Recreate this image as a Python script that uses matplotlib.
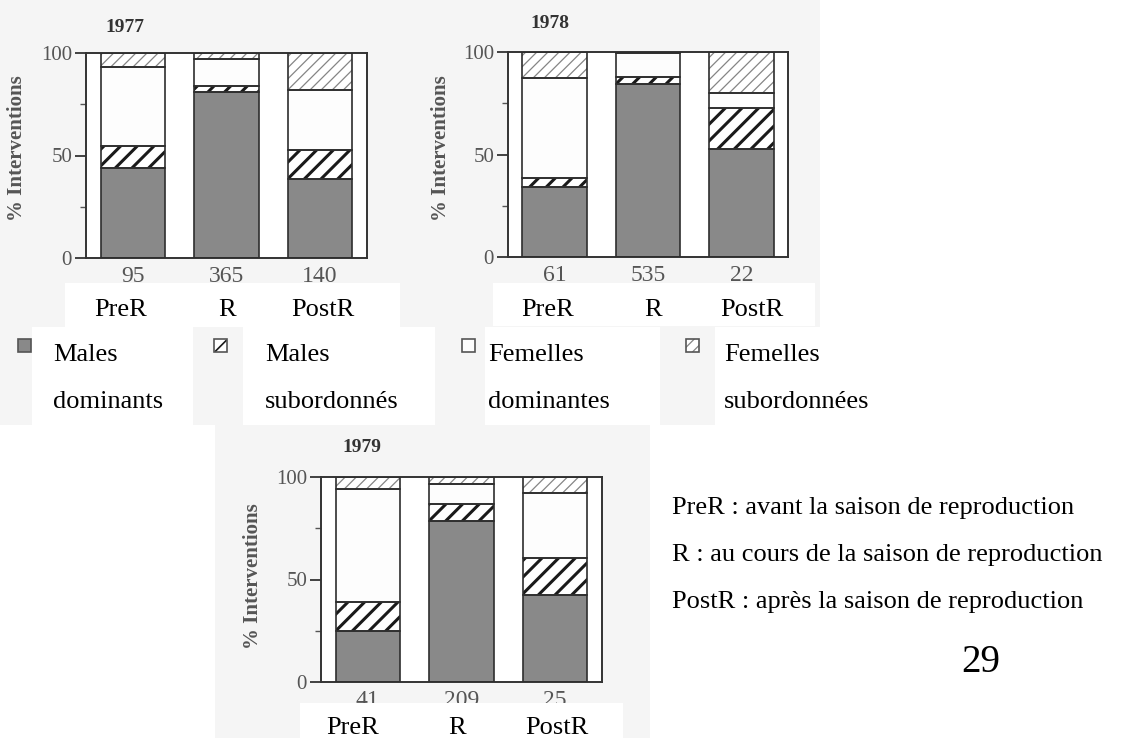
import numpy as np
import matplotlib.pyplot as plt
from matplotlib.patches import Rectangle

plt.rcParams['font.family'] = ['Liberation Serif', 'DejaVu Serif']

W, H = 1123, 738

periodes = ['PreR', 'R', 'PostR']
groupes = ['Males\ndominants', 'Males\nsubordonnés', 'Femelles\ndominantes', 'Femelles\nsubordonnées']
definitions = ['PreR : avant la saison de reproduction',
               'R : au cours de la saison de reproduction',
               'PostR : après la saison de reproduction']

# effectifs (nombre d'interventions) sous chaque barre
n_1977 = [95, 365, 140]
n_1978 = [61, 535, 22]
n_1979 = [41, 209, 25]

# % interventions par groupe (PreR, R, PostR)
males_dom_1977 = [44, 81, 38.5]
males_sub_1977 = [10.5, 3, 14]
fem_dom_1977 = [38.5, 13, 29.5]
fem_sub_1977 = [7, 3, 18]

males_dom_1978 = [34, 84.5, 52.5]
males_sub_1978 = [4.5, 3.5, 20]
fem_dom_1978 = [49, 11.5, 7.5]
fem_sub_1978 = [12.5, 0.5, 20]

males_dom_1979 = [25, 78.5, 42.5]
males_sub_1979 = [14, 8.5, 18]
fem_dom_1979 = [55, 9.5, 31.5]
fem_sub_1979 = [6, 3.5, 8]

# style de chaque groupe : remplissage, hachure, couleur et epaisseur de hachure
styles = [
    ('#898989', None, '#898989', 1.0),
    ('white', '//', '#1a1a1a', 2.2),
    ('#fdfdfd', None, '#fdfdfd', 1.0),
    ('white', '///', '#858585', 0.9),
]


def fig_rect(x0, y0, x1, y1):
    return [x0 / W, 1 - y1 / H, (x1 - x0) / W, (y1 - y0) / H]


def fig_xy(x, y):
    return x / W, 1 - y / H


def boite_blanche(x0, y0, x1, y1, couleur='white', z=5):
    l, b, w, h = fig_rect(x0, y0, x1, y1)
    fig.add_artist(Rectangle((l, b), w, h, transform=fig.transFigure,
                             facecolor=couleur, edgecolor='none', zorder=z))


fig = plt.figure(figsize=(W / 100, H / 100), dpi=100)
fig.patch.set_facecolor('white')

# fond gris des scans
for zone in [(0, 0, 400, 425), (400, 0, 820, 425), (215, 425, 650, 738)]:
    boite_blanche(*zone, couleur='#f5f5f5', z=-10)

panneaux = [
    ('1977', n_1977, [males_dom_1977, males_sub_1977, fem_dom_1977, fem_sub_1977],
     (86, 53, 367, 258), (125, 28), (17, 148)),
    ('1978', n_1978, [males_dom_1978, males_sub_1978, fem_dom_1978, fem_sub_1978],
     (508, 52, 788, 257), (550, 23), (441, 148)),
    ('1979', n_1979, [males_dom_1979, males_sub_1979, fem_dom_1979, fem_sub_1979],
     (321, 477, 602, 682), (362, 448), (253, 576)),
]

x = np.arange(len(periodes))
largeur = 0.69

for annee, effectifs, series, pos, pos_titre, pos_ylab in panneaux:
    ax = fig.add_axes(fig_rect(*pos))
    ax.set_facecolor('white')
    bas = np.zeros(len(periodes))
    for valeurs, (face, hachure, coul_h, lw_h) in zip(series, styles):
        valeurs = np.array(valeurs, dtype=float)
        with plt.rc_context({'hatch.linewidth': lw_h}):
            ax.bar(x, valeurs, largeur, bottom=bas, color=face, hatch=hachure,
                   edgecolor=coul_h, linewidth=0, zorder=2)
        ax.bar(x, valeurs, largeur, bottom=bas, fill=False,
               edgecolor='#2e2e2e', linewidth=1.2, zorder=3)
        bas += valeurs

    ax.set_xlim(-0.5, 2.5)
    ax.set_ylim(0, 100)
    ax.set_yticks([0, 50, 100])
    ax.set_yticks([25, 75], minor=True)
    ax.set_xticks(x, labels=[str(v) for v in effectifs])
    ax.tick_params(axis='y', which='major', length=8, width=1.3, color='#333333',
                   labelsize=15, labelcolor='#555555', pad=2)
    ax.tick_params(axis='y', which='minor', length=4, width=1.0, color='#555555')
    ax.tick_params(axis='x', length=0, labelsize=17, labelcolor='#555555', pad=6)
    for s in ax.spines.values():
        s.set_color('#333333')
        s.set_linewidth(1.4)

    fig.text(*fig_xy(*pos_titre), annee, fontsize=14, fontweight='bold',
             color='#333333', ha='center', va='center')
    fig.text(*fig_xy(*pos_ylab), '% Interventions', fontsize=15, fontweight='bold',
             color='#555555', rotation=90, ha='center', va='center')

# bandeaux blancs avec les periodes
bandeaux = [
    ((65, 283, 400, 327), [121, 227, 323], 310),
    ((493, 283, 815, 326), [548, 653, 752], 310),
    ((300, 703, 623, 738), [353, 457, 557], 728),
]
for zone, xs, y in bandeaux:
    boite_blanche(*zone)
    for xp, lab in zip(xs, periodes):
        fig.text(*fig_xy(xp, y), lab, fontsize=19, ha='center', va='center', zorder=6)

# legende
icones = [18, 214, 462, 686]
boites_leg = [(32, 193), (243, 435), (485, 660), (715, 880)]
textes_leg = [53, 265, 488, 724]
for xi, (face, hachure, coul_h, lw_h), (b0, b1), xt, lab in zip(icones, styles, boites_leg, textes_leg, groupes):
    l, b, w, h = fig_rect(xi, 339, xi + 13, 352)
    with plt.rc_context({'hatch.linewidth': min(lw_h, 1.2)}):
        fig.add_artist(Rectangle((l, b), w, h, transform=fig.transFigure, facecolor=face,
                                 hatch=hachure, edgecolor=coul_h, linewidth=0, zorder=4))
    fig.add_artist(Rectangle((l, b), w, h, transform=fig.transFigure, fill=False,
                             edgecolor='#555555', linewidth=1.2, zorder=4))
    boite_blanche(b0, 327, b1, 425)
    l1, l2 = lab.split('\n')
    fig.text(*fig_xy(xt, 355), l1, fontsize=19, ha='left', va='center', zorder=6)
    fig.text(*fig_xy(xt, 402), l2, fontsize=19, ha='left', va='center', zorder=6)

# definitions des periodes
boite_blanche(650, 470, 1123, 637)
for y, txt in zip([508, 555, 602], definitions):
    fig.text(*fig_xy(672, y), txt, fontsize=19, ha='left', va='center', zorder=6)
fig.text(*fig_xy(981, 662), '29', fontsize=28, ha='center', va='center', zorder=6)

fig.savefig('out.png', dpi=100)
